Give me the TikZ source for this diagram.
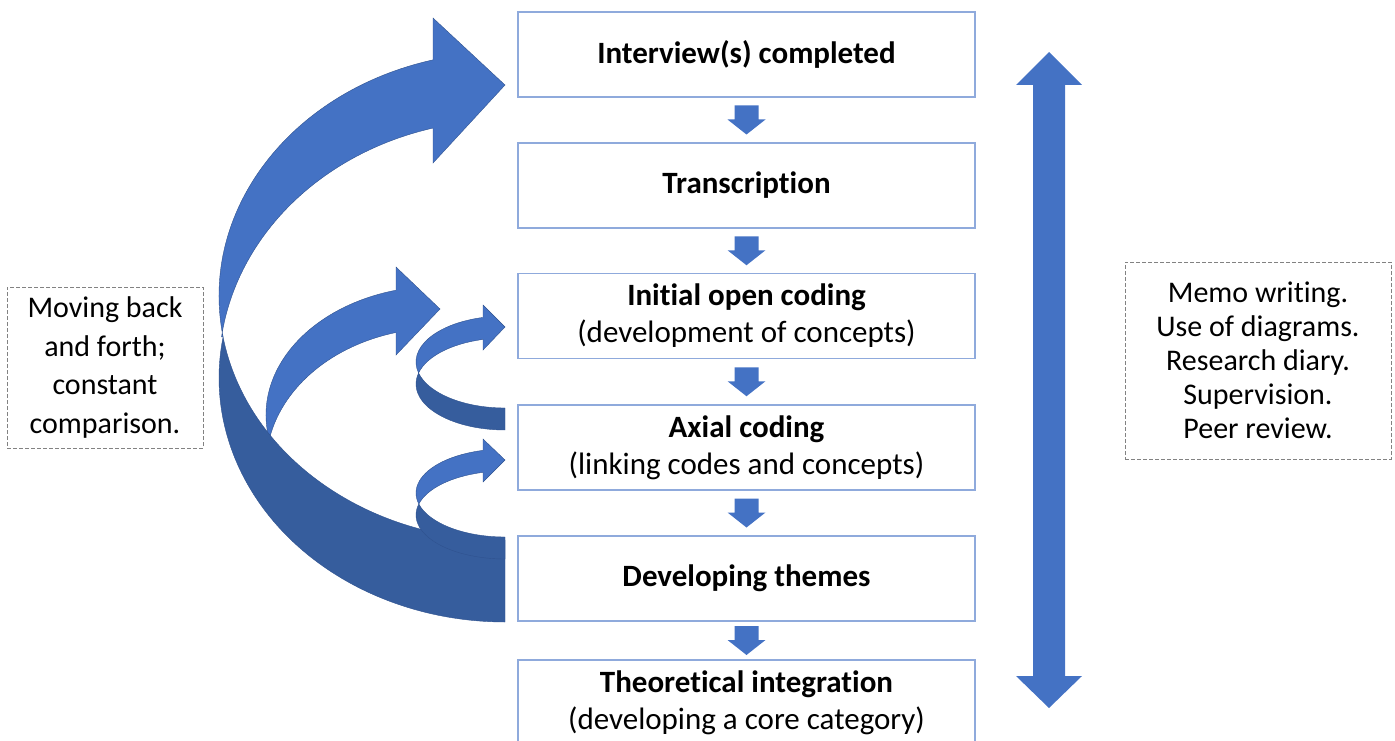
\documentclass[tikz,border=0pt]{standalone}
\usepackage{fontspec}
\setmainfont[Ligatures=NoCommon]{Carlito}
\usetikzlibrary{calc}
\definecolor{arrowblue}{RGB}{68,114,196}
\definecolor{darkblue}{RGB}{54,93,157}
\definecolor{edgeblue}{RGB}{47,82,143}
\definecolor{boxblue}{RGB}{143,170,220}
\definecolor{dashgray}{RGB}{130,130,130}
\tikzset{
  stepbox/.style={draw=boxblue, line width=1.3pt, fill=white, minimum width=457pt,
    minimum height=85pt, align=center, inner sep=0pt,
    font=\fontsize{31}{37}\selectfont},
  notebox/.style={draw=dashgray, dash pattern=on 4pt off 2pt, line width=1pt,
    align=center, inner sep=0pt},
  face/.style={fill=arrowblue, draw=edgeblue, line width=0.4pt},
  back/.style={fill=darkblue, draw=edgeblue, line width=0.4pt},
  downarr/.pic={\fill[arrowblue] (-12,14.5) -- (12,14.5) -- (12,0.5) -- (19,0.5)
    -- (0,-14.5) -- (-19,0.5) -- (-12,0.5) -- cycle;}
}
\begin{document}
\begin{tikzpicture}[x=1pt,y=1pt]
\useasboundingbox (0,0) rectangle (1395,-741);
\clip (0,0) rectangle (1395,-741);

% process boxes
\node[stepbox] (b1) at (746.5,-54.5) {\textbf{Interview(s) completed}};
\node[stepbox] (b2) at (746.5,-185.5) {\textbf{Transcription}};
\node[stepbox] (b3) at (746.5,-316) {\textbf{Initial open coding}\\(development of concepts)};
\node[stepbox] (b4) at (746.5,-447.5) {\textbf{Axial coding}\\(linking codes and concepts)};
\node[stepbox] (b5) at (746.5,-578.5) {\textbf{Developing themes}};
\node[stepbox] (b6) at (746.5,-702.5) {\textbf{Theoretical integration}\\(developing a core category)};

% down block arrows between boxes
\pic at ($(b1.south)!0.5!(b2.north)$) {downarr};
\pic at ($(b2.south)!0.5!(b3.north)$) {downarr};
\pic at ($(b3.south)!0.5!(b4.north)$) {downarr};
\pic at ($(b4.south)!0.5!(b5.north)$) {downarr};
\pic at ($(b5.south)!0.5!(b6.north)$) {downarr};

% side notes
\node[notebox, minimum width=196pt, minimum height=161pt,
  font=\fontsize{30}{38.5}\selectfont] (left) at (105,-367.5)
  {Moving back\\and forth;\\constant\\comparison.};
\node[notebox, minimum width=266pt, minimum height=197pt,
  font=\fontsize{30}{34}\selectfont] (right) at (1258,-360.5)
  {Memo writing.\\Use of diagrams.\\Research diary.\\Supervision.\\Peer review.};

% vertical double arrow
\fill[arrowblue] (1049,-52) -- (1082,-85) -- (1065,-85) -- (1065,-676) -- (1082,-676)
  -- (1049,-708) -- (1016,-676) -- (1033,-676) -- (1033,-85) -- (1016,-85) -- cycle;

% medium curved arrow (behind the big one)
\filldraw[face] ([shift={(440,-415)}]-170.2:174 and 129)
  arc[start angle=-170.2, end angle=-255.35, x radius=174, y radius=129]
  -- (396,-267) -- (440,-309) -- (396,-355)
  -- ([shift={(440,-466)}]-255.35:174 and 138)
  arc[start angle=-255.35, end angle=-192.1, x radius=174, y radius=138] -- cycle;

% big curved arrow: back face
\filldraw[back] ([shift={(505,-378)}]-189.67:286 and 244)
  arc[start angle=-189.67, end angle=-90, x radius=286, y radius=244]
  -- ([shift={(505,-296)}]-90:286 and 244)
  arc[start angle=-90, end angle=-170.33, x radius=286, y radius=244] -- cycle;
% big curved arrow: front face
\filldraw[face] ([shift={(505,-296)}]-170.33:286 and 244)
  arc[start angle=-170.33, end angle=-255.42, x radius=286, y radius=244]
  -- (433,-18) -- (505,-85) -- (433,-163)
  -- ([shift={(505,-370)}]-255.42:286 and 250)
  arc[start angle=-255.42, end angle=-187.6, x radius=286, y radius=250] -- cycle;

% small upper curved arrow
\filldraw[back] ([shift={(505,-384)}]-193.84:89 and 46)
  arc[start angle=-193.84, end angle=-90, x radius=89, y radius=46]
  -- ([shift={(505,-362)}]-90:89 and 46)
  arc[start angle=-90, end angle=-166.16, x radius=89, y radius=46] -- cycle;
\filldraw[face] ([shift={(505,-362)}]-166.16:89 and 46)
  arc[start angle=-166.16, end angle=-255.69, x radius=89, y radius=46]
  -- (483,-305) -- (505,-327) -- (483,-350)
  -- ([shift={(505,-384)}]-255.69:89 and 46)
  arc[start angle=-255.69, end angle=-193.84, x radius=89, y radius=46] -- cycle;

% small lower curved arrow
\filldraw[back] ([shift={(505,-515)}]-194.48:89 and 44)
  arc[start angle=-194.48, end angle=-90, x radius=89, y radius=44]
  -- ([shift={(505,-493)}]-90:89 and 44)
  arc[start angle=-90, end angle=-165.52, x radius=89, y radius=44] -- cycle;
\filldraw[face] ([shift={(505,-493)}]-165.52:89 and 44)
  arc[start angle=-165.52, end angle=-255.69, x radius=89, y radius=44]
  -- (483,-439) -- (505,-460) -- (483,-482)
  -- ([shift={(505,-515)}]-255.69:89 and 44)
  arc[start angle=-255.69, end angle=-194.48, x radius=89, y radius=44] -- cycle;
\end{tikzpicture}
\end{document}
